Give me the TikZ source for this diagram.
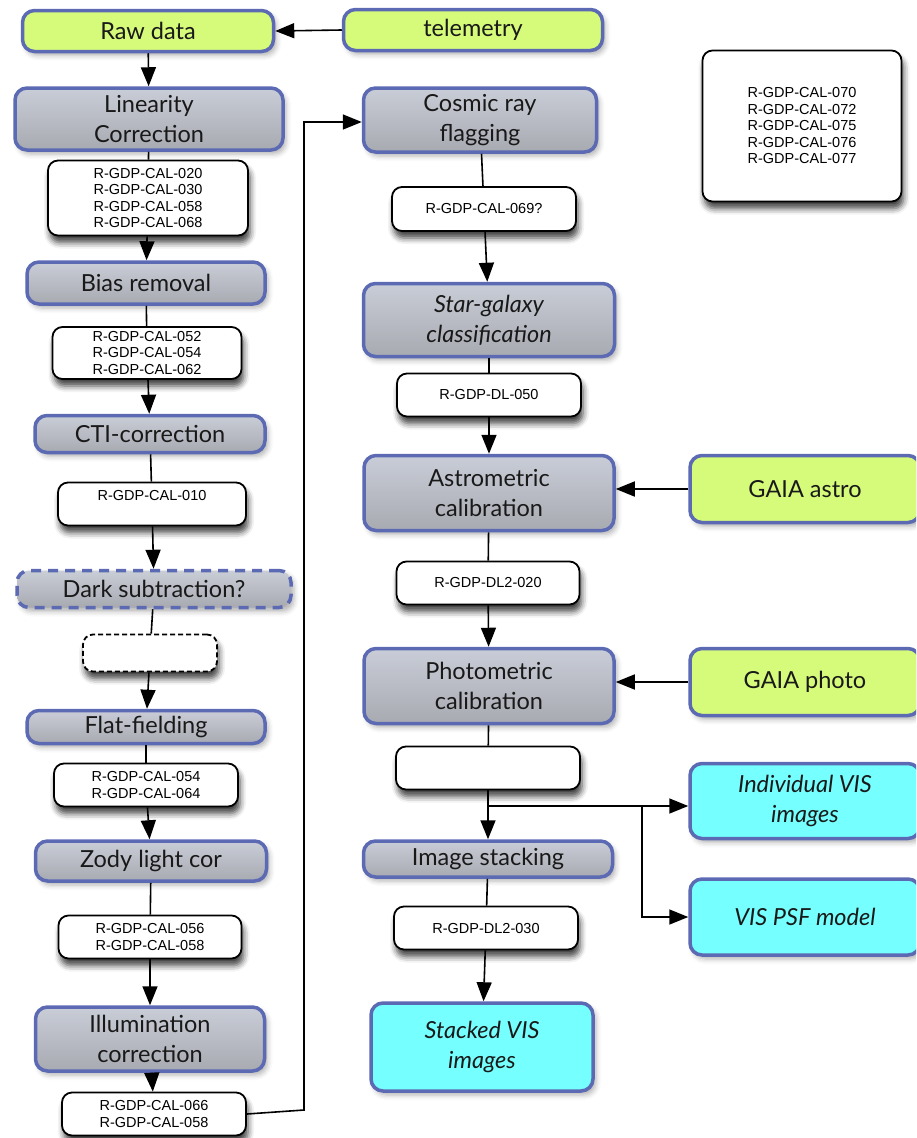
\documentclass[tikz,border=0pt]{standalone}
\usepackage{fontspec}
\setmainfont{Lato}
\newfontfamily\reqfont{Liberation Sans}
\usetikzlibrary{arrows.meta,shadows.blur}

\definecolor{procblue}{RGB}{92,106,180}
\definecolor{proctop}{RGB}{201,205,215}
\definecolor{procbot}{RGB}{168,170,177}
\definecolor{srcgreen}{RGB}{214,250,122}
\definecolor{outcyan}{RGB}{118,255,255}

\tikzset{
  box/.style={rectangle, rounded corners=12pt, draw=procblue, line width=3.5pt,
    align=center, inner sep=2pt, text=black!90,
    font=\fontsize{23.5}{30}\selectfont,
    blur shadow={shadow xshift=3pt, shadow yshift=-4pt, shadow blur radius=5pt, shadow opacity=30}},
  proc/.style={box, top color=proctop, bottom color=procbot},
  src/.style={box, fill=srcgreen},
  outbox/.style={box, fill=outcyan, font=\fontsize{23.5}{30}\selectfont\itshape},
  req/.style={rectangle, rounded corners=10pt, draw=black, line width=1.8pt,
    fill=white, align=center, inner sep=2pt,
    font=\reqfont\fontsize{14.5}{16.5}\selectfont,
    blur shadow={shadow xshift=2pt, shadow yshift=-7pt, shadow blur radius=6pt, shadow opacity=75}},
  link/.style={line width=1.6pt, draw=black},
  flow/.style={link, -{Triangle[length=19pt,width=15pt]}},
}

\begin{document}
\begin{tikzpicture}[x=1pt, y=-1pt]
\useasboundingbox (0,0) rectangle (916,1138);
\clip (0,0) rectangle (916,1138);

% ---------- left column ----------
\node[src, minimum width=251pt, minimum height=41pt] (raw) at (148,31) {Raw data};
\node[src, minimum width=259pt, minimum height=41pt] (tele) at (473,30) {telemetry};
\node[proc, minimum width=268pt, minimum height=62pt] (lin) at (149,119) {Linearity\\Correction};
\node[req, minimum width=200pt, minimum height=75pt] (r1) at (148,198)
  {R-GDP-CAL-020\\R-GDP-CAL-030\\R-GDP-CAL-058\\R-GDP-CAL-068};
\node[proc, minimum width=238pt, minimum height=42pt] (bias) at (146,283) {Bias removal};
\node[req, minimum width=189pt, minimum height=52pt] (r2) at (147,353)
  {R-GDP-CAL-052\\R-GDP-CAL-054\\R-GDP-CAL-062};
\node[proc, minimum width=230pt, minimum height=37pt] (cti) at (150,434) {CTI-correction};
\node[req, minimum width=188pt, minimum height=43pt] (r3) at (152,504) {R-GDP-CAL-010\\~};
\node[proc, dash pattern=on 10pt off 7pt, minimum width=274pt, minimum height=37pt] (dark) at (154,589) {Dark subtraction?};
\node[req, dash pattern=on 5pt off 3pt, minimum width=134pt, minimum height=37pt] (rd) at (150,653) {};
\node[proc, minimum width=238pt, minimum height=33pt] (flat) at (146,727) {Flat-fielding};
\node[req, minimum width=184pt, minimum height=43pt] (r4) at (146,785)
  {R-GDP-CAL-054\\R-GDP-CAL-064};
\node[proc, minimum width=231pt, minimum height=40pt] (zody) at (151,861) {Zody light cor};
\node[req, minimum width=183pt, minimum height=43pt] (r5) at (150,937)
  {R-GDP-CAL-056\\R-GDP-CAL-058};
\node[proc, minimum width=229pt, minimum height=64pt] (illum) at (150,1039) {Illumination\\correction};
\node[req, minimum width=184pt, minimum height=43pt] (r6) at (154,1114)
  {R-GDP-CAL-066\\R-GDP-CAL-058};

% ---------- right column ----------
\node[proc, minimum width=233pt, minimum height=64pt] (cosmic) at (480,120) {Cosmic ray\\flagging};
\node[req, minimum width=184pt, minimum height=44pt] (r7) at (484,209) {R-GDP-CAL-069?};
\node[proc, minimum width=251pt, minimum height=73pt, font=\fontsize{23.5}{30}\selectfont\itshape] (star) at (489,320) {Star-galaxy\\classification};
\node[req, minimum width=184pt, minimum height=43pt] (r8) at (489,395) {R-GDP-DL-050};
\node[proc, minimum width=250pt, minimum height=75pt] (astro) at (489,493) {Astrometric\\calibration};
\node[src, minimum width=230pt, minimum height=67pt] (gaiaA) at (805,489) {GAIA astro};
\node[req, minimum width=183pt, minimum height=43pt] (r9) at (488,583) {R-GDP-DL2-020};
\node[proc, minimum width=250pt, minimum height=75pt] (photo) at (489,686) {Photometric\\calibration};
\node[src, minimum width=230pt, minimum height=67pt] (gaiaP) at (805,682) {GAIA photo};
\node[req, minimum width=184pt, minimum height=43pt] (r10) at (488,768) {};
\node[proc, minimum width=249pt, minimum height=36pt] (stack) at (488,859) {Image stacking};
\node[req, minimum width=184pt, minimum height=43pt] (r11) at (486,928) {R-GDP-DL2-030};
\node[outbox, minimum width=222pt, minimum height=88pt] (stacked) at (482,1047) {Stacked VIS\\images};
\node[outbox, minimum width=230pt, minimum height=75pt] (indiv) at (805,801) {Individual VIS\\images};
\node[outbox, minimum width=230pt, minimum height=76pt] (psf) at (805,917) {VIS PSF model};

\node[req, minimum width=199pt, minimum height=151pt] (reqs) at (802,126)
  {R-GDP-CAL-070\\R-GDP-CAL-072\\R-GDP-CAL-075\\R-GDP-CAL-076\\R-GDP-CAL-077};

% ---------- connectors ----------
\draw[flow] (tele.west) -- (raw.east);
\draw[flow] (raw) -- (lin);
\draw[link] (lin) -- (r1);
\draw[flow] (r1) -- (bias);
\draw[link] (bias) -- (r2);
\draw[flow] (r2) -- (cti);
\draw[link] (cti) -- (r3);
\draw[flow] (r3) -- (dark);
\draw[link] (dark) -- (rd);
\draw[flow] (rd) -- (flat);
\draw[link] (flat) -- (r4);
\draw[flow] (r4) -- (zody);
\draw[link] (zody) -- (r5);
\draw[flow] (r5) -- (illum);
\draw[flow] (illum) -- (r6);

\coordinate (up1) at (304,1110);
\coordinate (up2) at (304,122);
\draw[flow] (r6.east) -- (up1) -- (up2) -- (up2 -| cosmic.west);

\draw[link] (cosmic) -- (r7);
\draw[flow] (r7) -- (star);
\draw[link] (star) -- (r8);
\draw[flow] (r8) -- (astro);
\draw[link] (astro) -- (r9);
\draw[flow] (r9) -- (photo);
\draw[link] (photo) -- (r10);
\draw[flow] (r10) -- (stack);
\draw[link] (stack) -- (r11);
\draw[flow] (r11) -- (stacked);

\draw[flow] (gaiaA.west) -- (gaiaA.west -| astro.east);
\draw[flow] (gaiaP.west) -- (gaiaP.west -| photo.east);

\coordinate (br1) at (488,806);
\coordinate (br2) at (642,806);
\draw[flow] (br1) -- (br1 -| indiv.west);
\draw[flow] (br2) |- (psf.west);
\end{tikzpicture}
\end{document}
